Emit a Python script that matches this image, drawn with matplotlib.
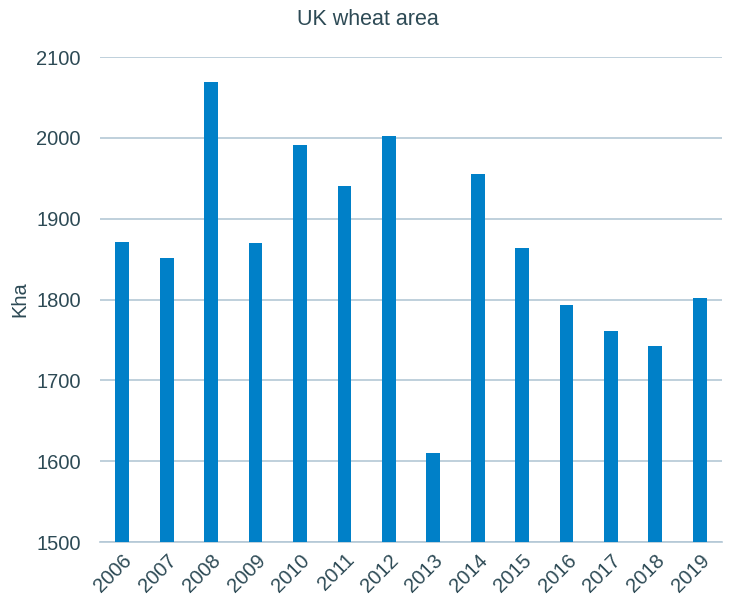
import matplotlib
matplotlib.use("Agg")
import matplotlib.pyplot as plt
import numpy as np

years = ["2006", "2007", "2008", "2009", "2010", "2011", "2012",
         "2013", "2014", "2015", "2016", "2017", "2018", "2019"]
area_kha = [1871, 1851, 2069, 1870, 1991, 1940, 2002,
            1610, 1955, 1864, 1793, 1761, 1742, 1802]
yticks = [1500, 1600, 1700, 1800, 1900, 2000, 2100]

text_color = "#2d4a55"
bar_color = "#0080c8"
grid_color = "#b4c8d6"

plt.rcParams['font.family'] = ['Liberation Sans', 'DejaVu Sans']

fig = plt.figure(figsize=(7.36, 6.01), dpi=100)
ax = fig.add_axes([0.136, 0.098, 0.845, 0.807])

x = np.arange(len(years))
ax.bar(x, area_kha, width=0.31, color=bar_color, zorder=3)

ax.set_xlim(-0.5, len(years) - 0.5)
ax.set_ylim(1500, 2100)
ax.set_yticks(yticks)
ax.set_xticks(x)
ax.set_xticklabels(years, rotation=45, ha="right", rotation_mode="anchor",
                   fontsize=14.5, color=text_color)
ax.tick_params(axis="y", labelsize=14.5, labelcolor=text_color, length=0, pad=14)
ax.tick_params(axis="x", length=0, pad=6)

ax.yaxis.grid(True, color=grid_color, linewidth=1.2, zorder=0)
for s in ["top", "right", "left"]:
    ax.spines[s].set_visible(False)
ax.spines["bottom"].set_color(grid_color)
ax.spines["bottom"].set_linewidth(1.2)

ax.set_ylabel("Kha", fontsize=14.5, color=text_color, labelpad=5)
fig.text(0.5, 0.968, "UK wheat area", ha="center", va="center",
         fontsize=15.5, color=text_color)

fig.savefig("out.png", dpi=100)
